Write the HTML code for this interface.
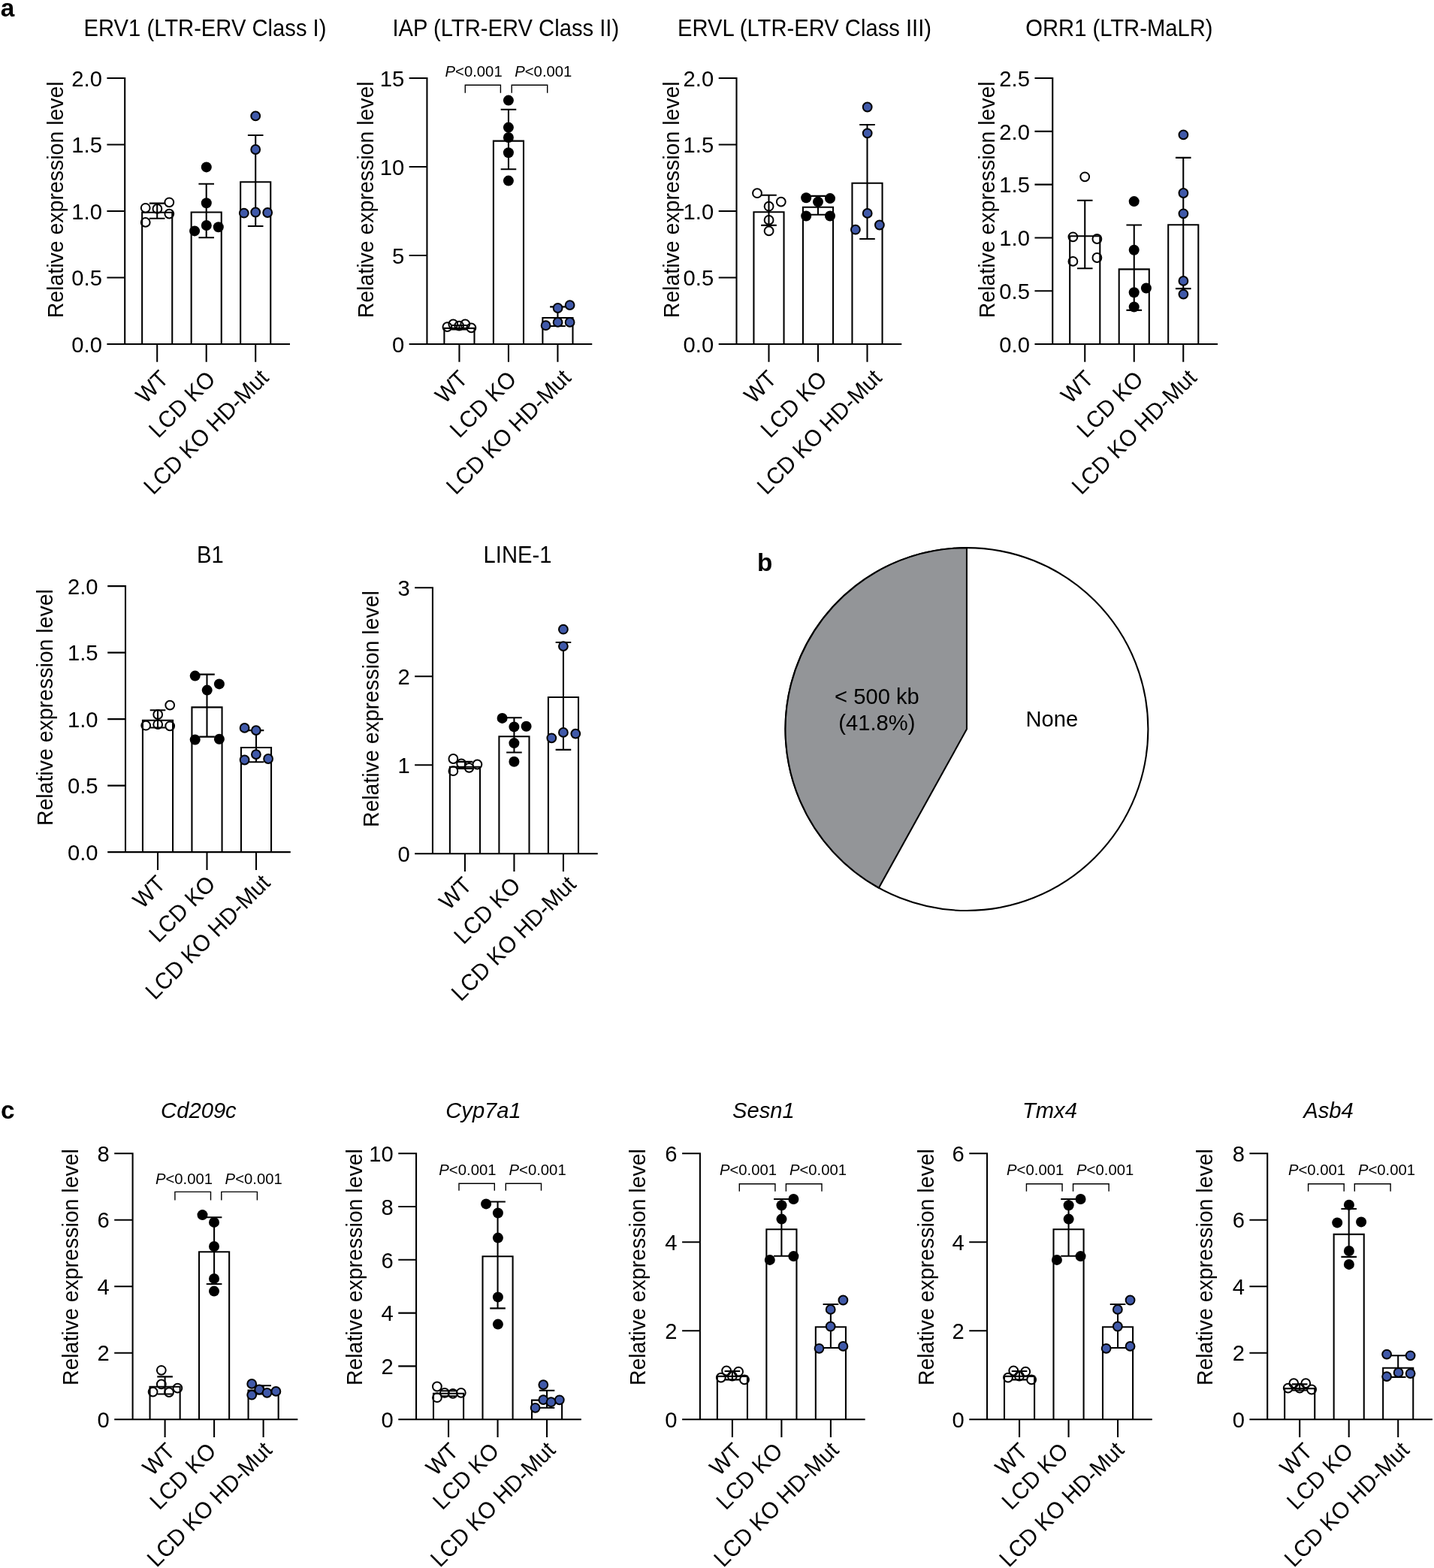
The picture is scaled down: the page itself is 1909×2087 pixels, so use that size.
<!DOCTYPE html>
<html lang="en">
<head>
<meta charset="utf-8">
<title>Figure: relative expression levels</title>
<style>
html,body{margin:0;padding:0;background:#fff;}
body{width:1909px;height:2087px;overflow:hidden;}
svg{display:block;font-family:"Liberation Sans",Arial,Helvetica,sans-serif;}
text{fill:#000;}
.ln{stroke:#000;stroke-width:2.08;fill:none;}
.bar{stroke:#000;stroke-width:2.08;fill:#fff;}
.wedge{stroke:#000;stroke-width:2.08;fill:#939598;stroke-linejoin:miter;}
.br{stroke:#000;stroke-width:1.4;fill:none;}
.o{fill:none;stroke:#000;stroke-width:2;}
.k{fill:#000;}
.b{fill:#4059a9;stroke:#000;stroke-width:2;}
</style>
</head>
<body>
<svg xmlns="http://www.w3.org/2000/svg" width="1909" height="2087" viewBox="0 0 1909 2087">
<rect width="1909" height="2087" fill="#fff"/>
<g><text transform="translate(273 47.5) scale(1 1.045)" text-anchor="middle" font-size="29.2">ERV1 (LTR-ERV Class I)</text>
<text transform="translate(83.5 265.8) rotate(-90) scale(1 1.02)" text-anchor="middle" font-size="28.5">Relative expression level</text>
<path d="M189.15 458V282.8H229.25V458" class="bar"/>
<path d="M254.65 458V282.5H294.75V458" class="bar"/>
<path d="M320.15 458V242.3H360.25V458" class="bar"/>
<path d="M198.9 270.6H219.5M198.9 290.7H219.5M209.2 270.6V290.7" class="ln"/>
<path d="M264.4 244.7H285M264.4 316.3H285M274.7 244.7V316.3" class="ln"/>
<path d="M329.9 180H350.5M329.9 301H350.5M340.2 180V301" class="ln"/>
<path d="M166.2 103.01V458M142.4 458H386M142.4 369.51H166.2M142.4 281.02H166.2M142.4 192.54H166.2M142.4 104.05H166.2M209.2 458V481.8M274.7 458V481.8M340.2 458V481.8" class="ln"/>
<text transform="translate(135.9 468.7) scale(1 1.0)" text-anchor="end" font-size="29.2">0.0</text>
<text transform="translate(135.9 380.21) scale(1 1.0)" text-anchor="end" font-size="29.2">0.5</text>
<text transform="translate(135.9 291.72) scale(1 1.0)" text-anchor="end" font-size="29.2">1.0</text>
<text transform="translate(135.9 203.24) scale(1 1.0)" text-anchor="end" font-size="29.2">1.5</text>
<text transform="translate(135.9 114.75) scale(1 1.0)" text-anchor="end" font-size="29.2">2.0</text>
<circle cx="225.3" cy="269.3" r="5.9" class="o"/>
<circle cx="193.7" cy="276.8" r="5.9" class="o"/>
<circle cx="209.4" cy="277.9" r="5.9" class="o"/>
<circle cx="225.3" cy="284.6" r="5.9" class="o"/>
<circle cx="193.7" cy="295.9" r="5.9" class="o"/>
<circle cx="274.8" cy="222.4" r="7" class="k"/>
<circle cx="274.8" cy="270.3" r="7" class="k"/>
<circle cx="274.8" cy="300" r="7" class="k"/>
<circle cx="290.8" cy="302.3" r="7" class="k"/>
<circle cx="259.1" cy="307.4" r="7" class="k"/>
<circle cx="340.2" cy="154.4" r="5.9" class="b"/>
<circle cx="340.2" cy="199" r="5.9" class="b"/>
<circle cx="340.2" cy="282.5" r="5.9" class="b"/>
<circle cx="324.8" cy="283.7" r="5.9" class="b"/>
<circle cx="356.2" cy="283" r="5.9" class="b"/>
<text transform="translate(225.9 506) rotate(-45) scale(1 1.04)" text-anchor="end" font-size="29.5">WT</text>
<text transform="translate(288.4 506.7) rotate(-45) scale(1 1.04)" text-anchor="end" font-size="29.5">LCD KO</text>
<text transform="translate(359.3 504.6) rotate(-45) scale(1 1.04)" text-anchor="end" font-size="29.5">LCD KO HD-Mut</text></g>
<g><text transform="translate(673.3 47.5) scale(1 1.045)" text-anchor="middle" font-size="29.2">IAP (LTR-ERV Class II)</text>
<text transform="translate(496.5 265.8) rotate(-90) scale(1 1.02)" text-anchor="middle" font-size="28.5">Relative expression level</text>
<path d="M591.4 458V436.9H631.5V458" class="bar"/>
<path d="M656.9 458V187.6H697V458" class="bar"/>
<path d="M722.4 458V423H762.5V458" class="bar"/>
<path d="M601.15 433H621.75M601.15 438.5H621.75M611.45 433V438.5" class="ln"/>
<path d="M666.65 145.7H687.25M666.65 225.3H687.25M676.95 145.7V225.3" class="ln"/>
<path d="M732.15 408.4H752.75M732.15 434H752.75M742.45 408.4V434" class="ln"/>
<path d="M568.45 103.01V458M544.65 458H788.25M544.65 340.02H568.45M544.65 222.03H568.45M544.65 104.05H568.45M611.45 458V481.8M676.95 458V481.8M742.45 458V481.8" class="ln"/>
<text transform="translate(538.15 468.7) scale(1 1.0)" text-anchor="end" font-size="29.2">0</text>
<text transform="translate(538.15 350.72) scale(1 1.0)" text-anchor="end" font-size="29.2">5</text>
<text transform="translate(538.15 232.73) scale(1 1.0)" text-anchor="end" font-size="29.2">10</text>
<text transform="translate(538.15 114.75) scale(1 1.0)" text-anchor="end" font-size="29.2">15</text>
<circle cx="595.4" cy="435.1" r="5.9" class="o"/>
<circle cx="603.3" cy="431.5" r="5.9" class="o"/>
<circle cx="611.2" cy="433.6" r="5.9" class="o"/>
<circle cx="619.3" cy="431.5" r="5.9" class="o"/>
<circle cx="627.4" cy="436.4" r="5.9" class="o"/>
<circle cx="676.9" cy="133.6" r="7" class="k"/>
<circle cx="676.9" cy="169.6" r="7" class="k"/>
<circle cx="676.9" cy="183" r="7" class="k"/>
<circle cx="676.9" cy="203.3" r="7" class="k"/>
<circle cx="676.9" cy="240.6" r="7" class="k"/>
<circle cx="758.6" cy="406.1" r="5.9" class="b"/>
<circle cx="742.6" cy="410" r="5.9" class="b"/>
<circle cx="742.6" cy="428.9" r="5.9" class="b"/>
<circle cx="758.6" cy="428.9" r="5.9" class="b"/>
<circle cx="726.6" cy="433.2" r="5.9" class="b"/>
<text transform="translate(624.3 506) rotate(-45) scale(1 1.04)" text-anchor="end" font-size="29.5">WT</text>
<text transform="translate(689.2 506.7) rotate(-45) scale(1 1.04)" text-anchor="end" font-size="29.5">LCD KO</text>
<text transform="translate(761.9 504.6) rotate(-45) scale(1 1.04)" text-anchor="end" font-size="29.5">LCD KO HD-Mut</text>
<path d="M619.3 123.7V113.3H666.4V123.7" class="br"/>
<path d="M681.2 123.7V113.3H728.7V123.7" class="br"/>
<text transform="translate(630.6 102.4) scale(1 1.03)" text-anchor="middle" font-size="20.3"><tspan font-style="italic">P</tspan>&lt;0.001</text>
<text transform="translate(723.3 102.4) scale(1 1.03)" text-anchor="middle" font-size="20.3"><tspan font-style="italic">P</tspan>&lt;0.001</text></g>
<g><text transform="translate(1071 47.5) scale(1 1.045)" text-anchor="middle" font-size="29.2">ERVL (LTR-ERV Class III)</text>
<text transform="translate(903.5 265.8) rotate(-90) scale(1 1.02)" text-anchor="middle" font-size="28.5">Relative expression level</text>
<path d="M1003.45 458V282.3H1043.55V458" class="bar"/>
<path d="M1068.95 458V275.7H1109.05V458" class="bar"/>
<path d="M1134.45 458V243.7H1174.55V458" class="bar"/>
<path d="M1013.2 259.8H1033.8M1013.2 299.9H1033.8M1023.5 259.8V299.9" class="ln"/>
<path d="M1078.7 260.9H1099.3M1078.7 285.8H1099.3M1089 260.9V285.8" class="ln"/>
<path d="M1144.2 166H1164.8M1144.2 318H1164.8M1154.5 166V318" class="ln"/>
<path d="M980.5 103.01V458M956.7 458H1200.3M956.7 369.51H980.5M956.7 281.02H980.5M956.7 192.54H980.5M956.7 104.05H980.5M1023.5 458V481.8M1089 458V481.8M1154.5 458V481.8" class="ln"/>
<text transform="translate(950.2 468.7) scale(1 1.0)" text-anchor="end" font-size="29.2">0.0</text>
<text transform="translate(950.2 380.21) scale(1 1.0)" text-anchor="end" font-size="29.2">0.5</text>
<text transform="translate(950.2 291.72) scale(1 1.0)" text-anchor="end" font-size="29.2">1.0</text>
<text transform="translate(950.2 203.24) scale(1 1.0)" text-anchor="end" font-size="29.2">1.5</text>
<text transform="translate(950.2 114.75) scale(1 1.0)" text-anchor="end" font-size="29.2">2.0</text>
<circle cx="1008" cy="257.2" r="5.9" class="o"/>
<circle cx="1039.8" cy="268.6" r="5.9" class="o"/>
<circle cx="1023.6" cy="274.7" r="5.9" class="o"/>
<circle cx="1023.6" cy="292.9" r="5.9" class="o"/>
<circle cx="1023.6" cy="307.4" r="5.9" class="o"/>
<circle cx="1073.2" cy="263.2" r="7" class="k"/>
<circle cx="1105" cy="264.1" r="7" class="k"/>
<circle cx="1089" cy="268.6" r="7" class="k"/>
<circle cx="1073.2" cy="287.5" r="7" class="k"/>
<circle cx="1105" cy="287.5" r="7" class="k"/>
<circle cx="1154.7" cy="142.5" r="5.9" class="b"/>
<circle cx="1154.7" cy="177.3" r="5.9" class="b"/>
<circle cx="1154.7" cy="283.9" r="5.9" class="b"/>
<circle cx="1170.9" cy="299.5" r="5.9" class="b"/>
<circle cx="1138.9" cy="305.7" r="5.9" class="b"/>
<text transform="translate(1035.6 506) rotate(-45) scale(1 1.04)" text-anchor="end" font-size="29.5">WT</text>
<text transform="translate(1102.8 506.7) rotate(-45) scale(1 1.04)" text-anchor="end" font-size="29.5">LCD KO</text>
<text transform="translate(1175.6 504.6) rotate(-45) scale(1 1.04)" text-anchor="end" font-size="29.5">LCD KO HD-Mut</text></g>
<g><text transform="translate(1489.9 47.5) scale(1 1.045)" text-anchor="middle" font-size="29.2">ORR1 (LTR-MaLR)</text>
<text transform="translate(1323.5 265.8) rotate(-90) scale(1 1.02)" text-anchor="middle" font-size="28.5">Relative expression level</text>
<path d="M1424.2 458V314.3H1464.3V458" class="bar"/>
<path d="M1489.7 458V358.4H1529.8V458" class="bar"/>
<path d="M1555.2 458V299.3H1595.3V458" class="bar"/>
<path d="M1433.95 266.8H1454.55M1433.95 357.3H1454.55M1444.25 266.8V357.3" class="ln"/>
<path d="M1499.45 299.5H1520.05M1499.45 412.9H1520.05M1509.75 299.5V412.9" class="ln"/>
<path d="M1564.95 209.9H1585.55M1564.95 384.1H1585.55M1575.25 209.9V384.1" class="ln"/>
<path d="M1401.25 103.01V458M1377.45 458H1621.05M1377.45 387.21H1401.25M1377.45 316.42H1401.25M1377.45 245.63H1401.25M1377.45 174.84H1401.25M1377.45 104.05H1401.25M1444.25 458V481.8M1509.75 458V481.8M1575.25 458V481.8" class="ln"/>
<text transform="translate(1370.95 468.7) scale(1 1.0)" text-anchor="end" font-size="29.2">0.0</text>
<text transform="translate(1370.95 397.91) scale(1 1.0)" text-anchor="end" font-size="29.2">0.5</text>
<text transform="translate(1370.95 327.12) scale(1 1.0)" text-anchor="end" font-size="29.2">1.0</text>
<text transform="translate(1370.95 256.33) scale(1 1.0)" text-anchor="end" font-size="29.2">1.5</text>
<text transform="translate(1370.95 185.54) scale(1 1.0)" text-anchor="end" font-size="29.2">2.0</text>
<text transform="translate(1370.95 114.75) scale(1 1.0)" text-anchor="end" font-size="29.2">2.5</text>
<circle cx="1444.2" cy="235.3" r="5.9" class="o"/>
<circle cx="1428.4" cy="315.3" r="5.9" class="o"/>
<circle cx="1460.4" cy="318" r="5.9" class="o"/>
<circle cx="1460.4" cy="343" r="5.9" class="o"/>
<circle cx="1428.4" cy="347.9" r="5.9" class="o"/>
<circle cx="1509.7" cy="268.1" r="7" class="k"/>
<circle cx="1509.7" cy="332.7" r="7" class="k"/>
<circle cx="1525.9" cy="383.5" r="7" class="k"/>
<circle cx="1509.7" cy="389.3" r="7" class="k"/>
<circle cx="1509.7" cy="408.5" r="7" class="k"/>
<circle cx="1575.4" cy="179.4" r="5.9" class="b"/>
<circle cx="1575.4" cy="257" r="5.9" class="b"/>
<circle cx="1575.4" cy="284.3" r="5.9" class="b"/>
<circle cx="1575.4" cy="373.9" r="5.9" class="b"/>
<circle cx="1575.4" cy="391.6" r="5.9" class="b"/>
<text transform="translate(1457.4 506) rotate(-45) scale(1 1.04)" text-anchor="end" font-size="29.5">WT</text>
<text transform="translate(1523.8 506.7) rotate(-45) scale(1 1.04)" text-anchor="end" font-size="29.5">LCD KO</text>
<text transform="translate(1594.7 504.6) rotate(-45) scale(1 1.04)" text-anchor="end" font-size="29.5">LCD KO HD-Mut</text></g>
<g><text transform="translate(279.9 748.8) scale(1 1.045)" text-anchor="middle" font-size="29.2">B1</text>
<text transform="translate(69.5 941.6) rotate(-90) scale(1 1.02)" text-anchor="middle" font-size="28.5">Relative expression level</text>
<path d="M189.95 1134.15V958.7H230.05V1134.15" class="bar"/>
<path d="M255.45 1134.15V941.4H295.55V1134.15" class="bar"/>
<path d="M320.95 1134.15V995H361.05V1134.15" class="bar"/>
<path d="M199.7 945.2H220.3M199.7 968.5H220.3M210 945.2V968.5" class="ln"/>
<path d="M265.2 897.6H285.8M265.2 980.6H285.8M275.5 897.6V980.6" class="ln"/>
<path d="M330.7 972.1H351.3M330.7 1014.3H351.3M341 972.1V1014.3" class="ln"/>
<path d="M167 779.11V1134.15M143.2 1134.15H386.8M143.2 1045.65H167M143.2 957.15H167M143.2 868.65H167M143.2 780.15H167M210 1134.15V1157.95M275.5 1134.15V1157.95M341 1134.15V1157.95" class="ln"/>
<text transform="translate(130.5 1144.85) scale(1 1.0)" text-anchor="end" font-size="29.2">0.0</text>
<text transform="translate(130.5 1056.35) scale(1 1.0)" text-anchor="end" font-size="29.2">0.5</text>
<text transform="translate(130.5 967.85) scale(1 1.0)" text-anchor="end" font-size="29.2">1.0</text>
<text transform="translate(130.5 879.35) scale(1 1.0)" text-anchor="end" font-size="29.2">1.5</text>
<text transform="translate(130.5 790.85) scale(1 1.0)" text-anchor="end" font-size="29.2">2.0</text>
<circle cx="226.2" cy="938.6" r="5.9" class="o"/>
<circle cx="210.2" cy="951" r="5.9" class="o"/>
<circle cx="194.2" cy="965.7" r="5.9" class="o"/>
<circle cx="210.2" cy="964.2" r="5.9" class="o"/>
<circle cx="226.2" cy="966.3" r="5.9" class="o"/>
<circle cx="259.7" cy="899.6" r="7" class="k"/>
<circle cx="291.9" cy="910.4" r="7" class="k"/>
<circle cx="275.7" cy="918.6" r="7" class="k"/>
<circle cx="259.7" cy="984.5" r="7" class="k"/>
<circle cx="291.9" cy="983.8" r="7" class="k"/>
<circle cx="325.6" cy="968.9" r="5.9" class="b"/>
<circle cx="340.9" cy="972.1" r="5.9" class="b"/>
<circle cx="340.9" cy="1004.1" r="5.9" class="b"/>
<circle cx="325.6" cy="1011.5" r="5.9" class="b"/>
<circle cx="357.1" cy="1010" r="5.9" class="b"/>
<text transform="translate(221.9 1178.25) rotate(-45) scale(1 1.04)" text-anchor="end" font-size="29.5">WT</text>
<text transform="translate(288.6 1178.45) rotate(-45) scale(1 1.04)" text-anchor="end" font-size="29.5">LCD KO</text>
<text transform="translate(361.4 1176.85) rotate(-45) scale(1 1.04)" text-anchor="end" font-size="29.5">LCD KO HD-Mut</text></g>
<g><text transform="translate(689 748.8) scale(1 1.045)" text-anchor="middle" font-size="29.2">LINE-1</text>
<text transform="translate(503.5 943.6) rotate(-90) scale(1 1.02)" text-anchor="middle" font-size="28.5">Relative expression level</text>
<path d="M598.9 1136.2V1020.8H639V1136.2" class="bar"/>
<path d="M664.4 1136.2V980.3H704.5V1136.2" class="bar"/>
<path d="M729.9 1136.2V928H770V1136.2" class="bar"/>
<path d="M608.65 1013.9H629.25M608.65 1023H629.25M618.95 1013.9V1023" class="ln"/>
<path d="M674.15 955.2H694.75M674.15 1001.5H694.75M684.45 955.2V1001.5" class="ln"/>
<path d="M739.65 855H760.25M739.65 997.9H760.25M749.95 855V997.9" class="ln"/>
<path d="M575.95 781.16V1136.2M552.15 1136.2H795.75M552.15 1018.2H575.95M552.15 900.2H575.95M552.15 782.2H575.95M618.95 1136.2V1160M684.45 1136.2V1160M749.95 1136.2V1160" class="ln"/>
<text transform="translate(545.65 1146.9) scale(1 1.0)" text-anchor="end" font-size="29.2">0</text>
<text transform="translate(545.65 1028.9) scale(1 1.0)" text-anchor="end" font-size="29.2">1</text>
<text transform="translate(545.65 910.9) scale(1 1.0)" text-anchor="end" font-size="29.2">2</text>
<text transform="translate(545.65 792.9) scale(1 1.0)" text-anchor="end" font-size="29.2">3</text>
<circle cx="603.4" cy="1010" r="5.9" class="o"/>
<circle cx="614.2" cy="1016.4" r="5.9" class="o"/>
<circle cx="603.4" cy="1026.2" r="5.9" class="o"/>
<circle cx="624.5" cy="1021.8" r="5.9" class="o"/>
<circle cx="635.4" cy="1017.5" r="5.9" class="o"/>
<circle cx="668.6" cy="955.9" r="7" class="k"/>
<circle cx="684.4" cy="967.4" r="7" class="k"/>
<circle cx="700.6" cy="966.7" r="7" class="k"/>
<circle cx="684.4" cy="989.1" r="7" class="k"/>
<circle cx="684.4" cy="1013.7" r="7" class="k"/>
<circle cx="749.9" cy="837.7" r="5.9" class="b"/>
<circle cx="749.9" cy="860.1" r="5.9" class="b"/>
<circle cx="749.9" cy="974.9" r="5.9" class="b"/>
<circle cx="766.3" cy="976.6" r="5.9" class="b"/>
<circle cx="734.3" cy="982.3" r="5.9" class="b"/>
<text transform="translate(629.7 1180.2) rotate(-45) scale(1 1.04)" text-anchor="end" font-size="29.5">WT</text>
<text transform="translate(694.7 1180.6) rotate(-45) scale(1 1.04)" text-anchor="end" font-size="29.5">LCD KO</text>
<text transform="translate(768.6 1178.9) rotate(-45) scale(1 1.04)" text-anchor="end" font-size="29.5">LCD KO HD-Mut</text></g>
<g><text transform="translate(264.4 1488.2) scale(1 1.0)" text-anchor="middle" font-size="29.2" font-style="italic">Cd209c</text>
<text transform="translate(103.5 1686.6) rotate(-90) scale(1 1.02)" text-anchor="middle" font-size="28.5">Relative expression level</text>
<path d="M199.55 1889.2V1845.7H239.65V1889.2" class="bar"/>
<path d="M265.05 1889.2V1666.2H305.15V1889.2" class="bar"/>
<path d="M330.55 1889.2V1850.5H370.65V1889.2" class="bar"/>
<path d="M209.3 1832.4H229.9M209.3 1855.5H229.9M219.6 1832.4V1855.5" class="ln"/>
<path d="M274.8 1620.2H295.4M274.8 1709H295.4M285.1 1620.2V1709" class="ln"/>
<path d="M340.3 1844.3H360.9M340.3 1855.5H360.9M350.6 1844.3V1855.5" class="ln"/>
<path d="M176.6 1534.16V1889.2M152.2 1889.2H396.4M152.2 1800.7H176.6M152.2 1712.2H176.6M152.2 1623.7H176.6M152.2 1535.2H176.6M219.6 1889.2V1913M285.1 1889.2V1913M350.6 1889.2V1913" class="ln"/>
<text transform="translate(145.7 1899.9) scale(1 1.0)" text-anchor="end" font-size="29.2">0</text>
<text transform="translate(145.7 1811.4) scale(1 1.0)" text-anchor="end" font-size="29.2">2</text>
<text transform="translate(145.7 1722.9) scale(1 1.0)" text-anchor="end" font-size="29.2">4</text>
<text transform="translate(145.7 1634.4) scale(1 1.0)" text-anchor="end" font-size="29.2">6</text>
<text transform="translate(145.7 1545.9) scale(1 1.0)" text-anchor="end" font-size="29.2">8</text>
<circle cx="214.8" cy="1823.8" r="5.9" class="o"/>
<circle cx="214.8" cy="1842.4" r="5.9" class="o"/>
<circle cx="236.4" cy="1847.6" r="5.9" class="o"/>
<circle cx="203.6" cy="1852.6" r="5.9" class="o"/>
<circle cx="225" cy="1853.1" r="5.9" class="o"/>
<circle cx="269.5" cy="1617.1" r="7" class="k"/>
<circle cx="285" cy="1626.9" r="7" class="k"/>
<circle cx="285" cy="1659" r="7" class="k"/>
<circle cx="285" cy="1701.9" r="7" class="k"/>
<circle cx="285" cy="1718.6" r="7" class="k"/>
<circle cx="335.2" cy="1841.9" r="5.9" class="b"/>
<circle cx="345.2" cy="1849.5" r="5.9" class="b"/>
<circle cx="355.5" cy="1853.8" r="5.9" class="b"/>
<circle cx="367.4" cy="1851.9" r="5.9" class="b"/>
<circle cx="335.2" cy="1856.7" r="5.9" class="b"/>
<text transform="translate(234.8 1933.4) rotate(-45) scale(1 1.04)" text-anchor="end" font-size="29.5">WT</text>
<text transform="translate(289.6 1933.3) rotate(-45) scale(1 1.04)" text-anchor="end" font-size="29.5">LCD KO</text>
<text transform="translate(363.8 1932) rotate(-45) scale(1 1.04)" text-anchor="end" font-size="29.5">LCD KO HD-Mut</text>
<path d="M232.9 1597.6V1586.4H280.5V1597.6" class="br"/>
<path d="M294.8 1597.6V1586.4H342.4V1597.6" class="br"/>
<text transform="translate(245 1575.7) scale(1 1.03)" text-anchor="middle" font-size="20.3"><tspan font-style="italic">P</tspan>&lt;0.001</text>
<text transform="translate(337.7 1575.7) scale(1 1.03)" text-anchor="middle" font-size="20.3"><tspan font-style="italic">P</tspan>&lt;0.001</text></g>
<g><text transform="translate(643.5 1488.2) scale(1 1.0)" text-anchor="middle" font-size="29.2" font-style="italic">Cyp7a1</text>
<text transform="translate(481.5 1686.6) rotate(-90) scale(1 1.02)" text-anchor="middle" font-size="28.5">Relative expression level</text>
<path d="M577 1889.2V1854.8H617.1V1889.2" class="bar"/>
<path d="M642.5 1889.2V1672.2H682.6V1889.2" class="bar"/>
<path d="M708 1889.2V1863.6H748.1V1889.2" class="bar"/>
<path d="M586.75 1851.2H607.35M586.75 1858.3H607.35M597.05 1851.2V1858.3" class="ln"/>
<path d="M652.25 1599.5H672.85M652.25 1741.4H672.85M662.55 1599.5V1741.4" class="ln"/>
<path d="M717.75 1850.7H738.35M717.75 1873.8H738.35M728.05 1850.7V1873.8" class="ln"/>
<path d="M554.05 1534.16V1889.2M530.25 1889.2H773.85M530.25 1818.4H554.05M530.25 1747.6H554.05M530.25 1676.8H554.05M530.25 1606H554.05M530.25 1535.2H554.05M597.05 1889.2V1913M662.55 1889.2V1913M728.05 1889.2V1913" class="ln"/>
<text transform="translate(523.75 1899.9) scale(1 1.0)" text-anchor="end" font-size="29.2">0</text>
<text transform="translate(523.75 1829.1) scale(1 1.0)" text-anchor="end" font-size="29.2">2</text>
<text transform="translate(523.75 1758.3) scale(1 1.0)" text-anchor="end" font-size="29.2">4</text>
<text transform="translate(523.75 1687.5) scale(1 1.0)" text-anchor="end" font-size="29.2">6</text>
<text transform="translate(523.75 1616.7) scale(1 1.0)" text-anchor="end" font-size="29.2">8</text>
<text transform="translate(523.75 1545.9) scale(1 1.0)" text-anchor="end" font-size="29.2">10</text>
<circle cx="581.9" cy="1845.5" r="5.9" class="o"/>
<circle cx="591.9" cy="1853.8" r="5.9" class="o"/>
<circle cx="602.9" cy="1854.8" r="5.9" class="o"/>
<circle cx="613.8" cy="1853.8" r="5.9" class="o"/>
<circle cx="581.9" cy="1860.2" r="5.9" class="o"/>
<circle cx="647.1" cy="1602.4" r="7" class="k"/>
<circle cx="662.9" cy="1614.5" r="7" class="k"/>
<circle cx="662.9" cy="1647.6" r="7" class="k"/>
<circle cx="662.9" cy="1726.4" r="7" class="k"/>
<circle cx="662.9" cy="1762.6" r="7" class="k"/>
<circle cx="723.3" cy="1843.1" r="5.9" class="b"/>
<circle cx="723.3" cy="1863.1" r="5.9" class="b"/>
<circle cx="744.8" cy="1863.3" r="5.9" class="b"/>
<circle cx="733.6" cy="1866.2" r="5.9" class="b"/>
<circle cx="712.6" cy="1873.8" r="5.9" class="b"/>
<text transform="translate(612.1 1933.4) rotate(-45) scale(1 1.04)" text-anchor="end" font-size="29.5">WT</text>
<text transform="translate(666.3 1933.3) rotate(-45) scale(1 1.04)" text-anchor="end" font-size="29.5">LCD KO</text>
<text transform="translate(741 1932) rotate(-45) scale(1 1.04)" text-anchor="end" font-size="29.5">LCD KO HD-Mut</text>
<path d="M611 1584.8V1575.2H658.3V1584.8" class="br"/>
<path d="M673.3 1584.8V1575.2H720.5V1584.8" class="br"/>
<text transform="translate(622.4 1563.8) scale(1 1.03)" text-anchor="middle" font-size="20.3"><tspan font-style="italic">P</tspan>&lt;0.001</text>
<text transform="translate(715.6 1563.8) scale(1 1.03)" text-anchor="middle" font-size="20.3"><tspan font-style="italic">P</tspan>&lt;0.001</text></g>
<g><text transform="translate(1016.4 1488.2) scale(1 1.0)" text-anchor="middle" font-size="29.2" font-style="italic">Sesn1</text>
<text transform="translate(859 1686.6) rotate(-90) scale(1 1.02)" text-anchor="middle" font-size="28.5">Relative expression level</text>
<path d="M954.85 1889.2V1831.9H994.95V1889.2" class="bar"/>
<path d="M1020.35 1889.2V1636.2H1060.45V1889.2" class="bar"/>
<path d="M1085.85 1889.2V1766.2H1125.95V1889.2" class="bar"/>
<path d="M964.6 1825H985.2M964.6 1836.4H985.2M974.9 1825V1836.4" class="ln"/>
<path d="M1030.1 1596H1050.7M1030.1 1671.7H1050.7M1040.4 1596V1671.7" class="ln"/>
<path d="M1095.6 1736H1116.2M1095.6 1794H1116.2M1105.9 1736V1794" class="ln"/>
<path d="M931.9 1534.16V1889.2M908.1 1889.2H1151.7M908.1 1771.2H931.9M908.1 1653.2H931.9M908.1 1535.2H931.9M974.9 1889.2V1913M1040.4 1889.2V1913M1105.9 1889.2V1913" class="ln"/>
<text transform="translate(901.6 1899.9) scale(1 1.0)" text-anchor="end" font-size="29.2">0</text>
<text transform="translate(901.6 1781.9) scale(1 1.0)" text-anchor="end" font-size="29.2">2</text>
<text transform="translate(901.6 1663.9) scale(1 1.0)" text-anchor="end" font-size="29.2">4</text>
<text transform="translate(901.6 1545.9) scale(1 1.0)" text-anchor="end" font-size="29.2">6</text>
<circle cx="967.1" cy="1824.5" r="5.9" class="o"/>
<circle cx="983.1" cy="1825.7" r="5.9" class="o"/>
<circle cx="959.8" cy="1833.6" r="5.9" class="o"/>
<circle cx="974.8" cy="1831.7" r="5.9" class="o"/>
<circle cx="991" cy="1836.4" r="5.9" class="o"/>
<circle cx="1056.4" cy="1596" r="7" class="k"/>
<circle cx="1040.5" cy="1604.3" r="7" class="k"/>
<circle cx="1040.5" cy="1622.6" r="7" class="k"/>
<circle cx="1056.4" cy="1672.1" r="7" class="k"/>
<circle cx="1024.8" cy="1676.9" r="7" class="k"/>
<circle cx="1122.4" cy="1730.5" r="5.9" class="b"/>
<circle cx="1105.7" cy="1742.9" r="5.9" class="b"/>
<circle cx="1105.7" cy="1765.5" r="5.9" class="b"/>
<circle cx="1122.4" cy="1791.9" r="5.9" class="b"/>
<circle cx="1090.5" cy="1794.8" r="5.9" class="b"/>
<text transform="translate(989.6 1933.4) rotate(-45) scale(1 1.04)" text-anchor="end" font-size="29.5">WT</text>
<text transform="translate(1043.8 1933.3) rotate(-45) scale(1 1.04)" text-anchor="end" font-size="29.5">LCD KO</text>
<text transform="translate(1118.2 1932) rotate(-45) scale(1 1.04)" text-anchor="end" font-size="29.5">LCD KO HD-Mut</text>
<path d="M984.3 1585.7V1575.7H1031.9V1585.7" class="br"/>
<path d="M1046.4 1585.7V1575.7H1094V1585.7" class="br"/>
<text transform="translate(996 1564.3) scale(1 1.03)" text-anchor="middle" font-size="20.3"><tspan font-style="italic">P</tspan>&lt;0.001</text>
<text transform="translate(1089 1564.3) scale(1 1.03)" text-anchor="middle" font-size="20.3"><tspan font-style="italic">P</tspan>&lt;0.001</text></g>
<g><text transform="translate(1397.4 1488.2) scale(1 1.0)" text-anchor="middle" font-size="29.2" font-style="italic">Tmx4</text>
<text transform="translate(1243 1686.6) rotate(-90) scale(1 1.02)" text-anchor="middle" font-size="28.5">Relative expression level</text>
<path d="M1337 1889.2V1831.9H1377.1V1889.2" class="bar"/>
<path d="M1402.5 1889.2V1636.2H1442.6V1889.2" class="bar"/>
<path d="M1468 1889.2V1766.2H1508.1V1889.2" class="bar"/>
<path d="M1346.75 1825H1367.35M1346.75 1836.4H1367.35M1357.05 1825V1836.4" class="ln"/>
<path d="M1412.25 1596H1432.85M1412.25 1671.7H1432.85M1422.55 1596V1671.7" class="ln"/>
<path d="M1477.75 1736H1498.35M1477.75 1794H1498.35M1488.05 1736V1794" class="ln"/>
<path d="M1314.05 1534.16V1889.2M1290.25 1889.2H1533.85M1290.25 1771.2H1314.05M1290.25 1653.2H1314.05M1290.25 1535.2H1314.05M1357.05 1889.2V1913M1422.55 1889.2V1913M1488.05 1889.2V1913" class="ln"/>
<text transform="translate(1283.75 1899.9) scale(1 1.0)" text-anchor="end" font-size="29.2">0</text>
<text transform="translate(1283.75 1781.9) scale(1 1.0)" text-anchor="end" font-size="29.2">2</text>
<text transform="translate(1283.75 1663.9) scale(1 1.0)" text-anchor="end" font-size="29.2">4</text>
<text transform="translate(1283.75 1545.9) scale(1 1.0)" text-anchor="end" font-size="29.2">6</text>
<circle cx="1349.25" cy="1824.5" r="5.9" class="o"/>
<circle cx="1365.25" cy="1825.7" r="5.9" class="o"/>
<circle cx="1341.95" cy="1833.6" r="5.9" class="o"/>
<circle cx="1356.95" cy="1831.7" r="5.9" class="o"/>
<circle cx="1373.15" cy="1836.4" r="5.9" class="o"/>
<circle cx="1438.55" cy="1596" r="7" class="k"/>
<circle cx="1422.65" cy="1604.3" r="7" class="k"/>
<circle cx="1422.65" cy="1622.6" r="7" class="k"/>
<circle cx="1438.55" cy="1672.1" r="7" class="k"/>
<circle cx="1406.95" cy="1676.9" r="7" class="k"/>
<circle cx="1504.55" cy="1730.5" r="5.9" class="b"/>
<circle cx="1487.85" cy="1742.9" r="5.9" class="b"/>
<circle cx="1487.85" cy="1765.5" r="5.9" class="b"/>
<circle cx="1504.55" cy="1791.9" r="5.9" class="b"/>
<circle cx="1472.65" cy="1794.8" r="5.9" class="b"/>
<text transform="translate(1370 1933.4) rotate(-45) scale(1 1.04)" text-anchor="end" font-size="29.5">WT</text>
<text transform="translate(1424 1933.3) rotate(-45) scale(1 1.04)" text-anchor="end" font-size="29.5">LCD KO</text>
<text transform="translate(1498.1 1932) rotate(-45) scale(1 1.04)" text-anchor="end" font-size="29.5">LCD KO HD-Mut</text>
<path d="M1366.45 1585.7V1575.7H1414.05V1585.7" class="br"/>
<path d="M1428.55 1585.7V1575.7H1476.15V1585.7" class="br"/>
<text transform="translate(1378.15 1564.3) scale(1 1.03)" text-anchor="middle" font-size="20.3"><tspan font-style="italic">P</tspan>&lt;0.001</text>
<text transform="translate(1471.15 1564.3) scale(1 1.03)" text-anchor="middle" font-size="20.3"><tspan font-style="italic">P</tspan>&lt;0.001</text></g>
<g><text transform="translate(1768.5 1488.2) scale(1 1.0)" text-anchor="middle" font-size="29.2" font-style="italic">Asb4</text>
<text transform="translate(1614 1686.6) rotate(-90) scale(1 1.02)" text-anchor="middle" font-size="28.5">Relative expression level</text>
<path d="M1710.15 1889.2V1848.1H1750.25V1889.2" class="bar"/>
<path d="M1775.65 1889.2V1642.9H1815.75V1889.2" class="bar"/>
<path d="M1841.15 1889.2V1820.7H1881.25V1889.2" class="bar"/>
<path d="M1719.9 1842.4H1740.5M1719.9 1850.5H1740.5M1730.2 1842.4V1850.5" class="ln"/>
<path d="M1785.4 1609H1806M1785.4 1672.9H1806M1795.7 1609V1672.9" class="ln"/>
<path d="M1850.9 1804.3H1871.5M1850.9 1832.9H1871.5M1861.2 1804.3V1832.9" class="ln"/>
<path d="M1687.2 1534.16V1889.2M1663.4 1889.2H1907M1663.4 1800.7H1687.2M1663.4 1712.2H1687.2M1663.4 1623.7H1687.2M1663.4 1535.2H1687.2M1730.2 1889.2V1913M1795.7 1889.2V1913M1861.2 1889.2V1913" class="ln"/>
<text transform="translate(1656.9 1899.9) scale(1 1.0)" text-anchor="end" font-size="29.2">0</text>
<text transform="translate(1656.9 1811.4) scale(1 1.0)" text-anchor="end" font-size="29.2">2</text>
<text transform="translate(1656.9 1722.9) scale(1 1.0)" text-anchor="end" font-size="29.2">4</text>
<text transform="translate(1656.9 1634.4) scale(1 1.0)" text-anchor="end" font-size="29.2">6</text>
<text transform="translate(1656.9 1545.9) scale(1 1.0)" text-anchor="end" font-size="29.2">8</text>
<circle cx="1722.3" cy="1841.2" r="5.9" class="o"/>
<circle cx="1738.3" cy="1841.2" r="5.9" class="o"/>
<circle cx="1714.7" cy="1847.6" r="5.9" class="o"/>
<circle cx="1730.2" cy="1847.6" r="5.9" class="o"/>
<circle cx="1746.1" cy="1849.5" r="5.9" class="o"/>
<circle cx="1795.9" cy="1603.8" r="7" class="k"/>
<circle cx="1780.2" cy="1627.4" r="7" class="k"/>
<circle cx="1812.1" cy="1626.4" r="7" class="k"/>
<circle cx="1795.9" cy="1665" r="7" class="k"/>
<circle cx="1795.9" cy="1682.9" r="7" class="k"/>
<circle cx="1846.1" cy="1802.6" r="5.9" class="b"/>
<circle cx="1877.6" cy="1804.3" r="5.9" class="b"/>
<circle cx="1861.6" cy="1826.9" r="5.9" class="b"/>
<circle cx="1877.6" cy="1828.1" r="5.9" class="b"/>
<circle cx="1846.1" cy="1832.1" r="5.9" class="b"/>
<text transform="translate(1749 1933.4) rotate(-45) scale(1 1.04)" text-anchor="end" font-size="29.5">WT</text>
<text transform="translate(1803.3 1933.3) rotate(-45) scale(1 1.04)" text-anchor="end" font-size="29.5">LCD KO</text>
<text transform="translate(1877.7 1932) rotate(-45) scale(1 1.04)" text-anchor="end" font-size="29.5">LCD KO HD-Mut</text>
<path d="M1741.6 1585.7V1575.7H1789.2V1585.7" class="br"/>
<path d="M1803.3 1585.7V1575.7H1851.1V1585.7" class="br"/>
<text transform="translate(1753 1564.3) scale(1 1.03)" text-anchor="middle" font-size="20.3"><tspan font-style="italic">P</tspan>&lt;0.001</text>
<text transform="translate(1846 1564.3) scale(1 1.03)" text-anchor="middle" font-size="20.3"><tspan font-style="italic">P</tspan>&lt;0.001</text></g>
<circle cx="1286.95" cy="970.55" r="241.45" class="bar"/>
<path d="M1286.95 970.55L1286.95 729.1A241.45 241.45 0 0 0 1169.89 1181.73Z" class="wedge"/>
<text transform="translate(1167.4 937.2) scale(1 1.0)" text-anchor="middle" font-size="29.2">&lt; 500 kb</text>
<text transform="translate(1167.4 972) scale(1 1.0)" text-anchor="middle" font-size="29.2">(41.8%)</text>
<text transform="translate(1400.3 966.6) scale(1 1.03)" text-anchor="middle" font-size="29.2">None</text>
<text transform="translate(0.7 21.9) scale(1 1.0)" font-size="33.3" font-weight="bold">a</text>
<text transform="translate(1008.1 760.2) scale(1 1.0)" font-size="33.3" font-weight="bold">b</text>
<text transform="translate(1.1 1488.5) scale(1 1.0)" font-size="33.3" font-weight="bold">c</text>
</svg>
</body>
</html>
